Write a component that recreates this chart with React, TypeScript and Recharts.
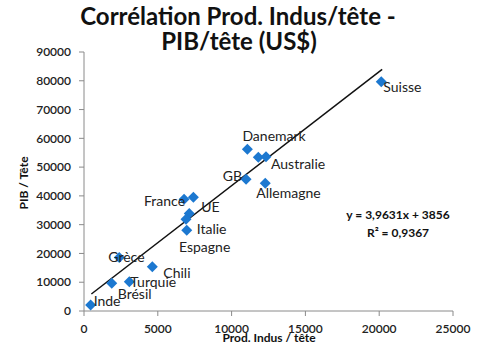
import { ReferenceLine, Scatter, ScatterChart, XAxis, YAxis } from 'recharts';

// Prod. Indus / tête (x) vs PIB / tête (y)
const countries = ['Inde', 'Brésil', 'Grèce', 'Turquie', 'Chili', 'France', '', 'UE', 'Espagne', 'Italie', 'Danemark', '', 'Australie', 'GB', 'Allemagne', 'Suisse'];
const prodIndus = [450, 1880, 2390, 3070, 4630, 6780, 7410, 7130, 6910, 6960, 11070, 11810, 12330, 10980, 12280, 20140];
const pibTete = [2100, 9600, 18600, 10200, 15400, 38800, 39500, 33900, 31900, 28100, 56200, 53400, 53600, 45800, 44400, 79700];

const xTicks = [0, 5000, 10000, 15000, 20000, 25000];
const yTicks = [0, 10000, 20000, 30000, 40000, 50000, 60000, 70000, 80000, 90000];

// linear trendline ends (y = 3,9631x + 3856)
const trendStart = { x: 500, y: 5900 };
const trendEnd = { x: 20200, y: 83950 };

const points = countries.map((name, i) => ({ name, x: prodIndus[i], y: pibTete[i] }));

// where each label sits relative to its marker: [dx, dy, anchor]
const labelPos: Record<string, [number, number, 'start' | 'end']> = {
  Inde: [3, -4, 'start'],
  'Brésil': [6, 10, 'start'],
  'Grèce': [-11, -1, 'start'],
  Turquie: [1, 0, 'start'],
  Chili: [11, 6, 'start'],
  France: [1, 1, 'end'],
  UE: [12, -7, 'start'],
  Espagne: [-7, 27, 'start'],
  Italie: [10, -2, 'start'],
  Danemark: [-5, -14, 'start'],
  Australie: [5, 7, 'start'],
  GB: [-4, -4, 'end'],
  Allemagne: [-9, 9, 'start'],
  Suisse: [2, 5, 'start'],
};

const FONT = 'Lato, "Open Sans", sans-serif';
const BLUE = '#1c78d0';

function Marker(props: any) {
  const { cx, cy, payload } = props;
  const r = 5.5;
  const pos = labelPos[payload.name];
  return (
    <g>
      <polygon points={`${cx},${cy - r} ${cx + r},${cy} ${cx},${cy + r} ${cx - r},${cy}`} fill={BLUE} />
      {pos && (
        <text
          x={cx + pos[0]}
          y={cy + pos[1]}
          textAnchor={pos[2]}
          dominantBaseline="central"
          fontFamily={FONT}
          fontSize={14}
          fill="#222"
        >
          {payload.name}
        </text>
      )}
    </g>
  );
}

const tickStyle = { fill: '#222', fontSize: 12, fontFamily: FONT, fontWeight: 600 };

export default function App() {
  return (
    <div style={{ position: 'absolute', left: 0, top: 0, width: 504, height: 362, background: '#fff' }}>
      <ScatterChart width={504} height={362} margin={{ top: 52, right: 51, bottom: 0, left: 0 }}>
        <XAxis
          type="number"
          dataKey="x"
          domain={[0, 25000]}
          ticks={xTicks}
          height={51}
          tick={tickStyle}
          tickSize={5}
          tickMargin={8}
          axisLine={{ stroke: '#8a8a8a' }}
          tickLine={{ stroke: '#8a8a8a' }}
        />
        <YAxis
          type="number"
          dataKey="y"
          domain={[0, 90000]}
          ticks={yTicks}
          width={84}
          tick={tickStyle}
          tickSize={5}
          tickMargin={8}
          axisLine={{ stroke: '#8a8a8a' }}
          tickLine={{ stroke: '#8a8a8a' }}
        />
        <ReferenceLine segment={[trendStart, trendEnd]} stroke="#111" strokeWidth={1.5} />
        <Scatter data={points} shape={Marker} isAnimationActive={false} />
      </ScatterChart>
      <svg width={504} height={362} style={{ position: 'absolute', left: 0, top: 0, pointerEvents: 'none' }}>
        <g fontFamily={FONT} fontWeight="bold" fill="#111" textAnchor="middle">
          <text x={238} y={25} fontSize={24}>Corrélation Prod. Indus/tête -</text>
          <text x={239} y={50} fontSize={24}>PIB/tête (US$)</text>
          <text x={269} y={342} fontSize={12}>Prod. Indus / tête</text>
          <text transform="translate(28,183) rotate(-90)" fontSize={12}>PIB / Tête</text>
          <text x={398} y={219} fontSize={12}>y = 3,9631x + 3856</text>
          <text x={398} y={237} fontSize={12}>R² = 0,9367</text>
        </g>
      </svg>
    </div>
  );
}
